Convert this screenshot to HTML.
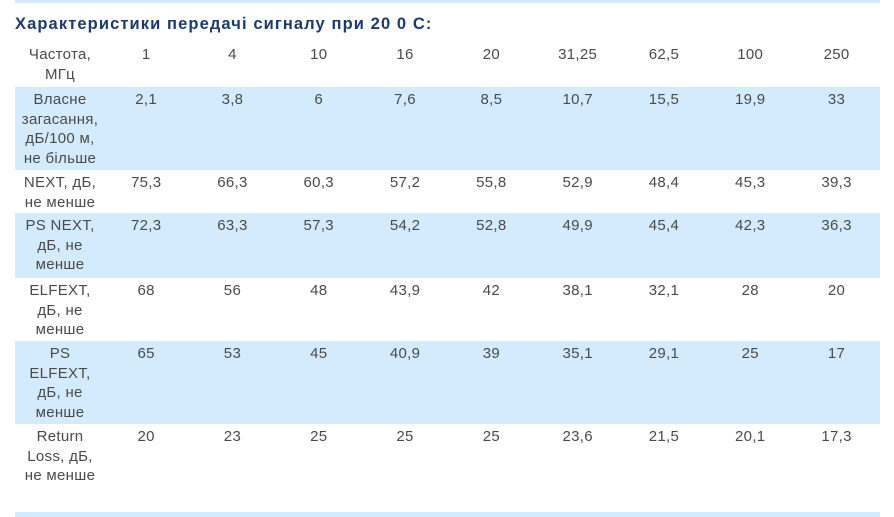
<!DOCTYPE html>
<html><head><meta charset="utf-8"><style>
body{margin:0;width:894px;height:517px;background:#fff;position:relative;overflow:hidden;font-family:"Liberation Sans","DejaVu Sans",sans-serif;}
.bar{position:absolute;left:15px;width:865px;background:#d3ebfd;}
h3{position:absolute;left:15px;top:15px;margin:0;font-size:16.5px;font-weight:bold;color:#1d3a6b;letter-spacing:1.1px;white-space:nowrap;}
.row{position:absolute;left:15px;width:865px;}
.row.b{background:#d3ebfd;}
.c{position:absolute;top:0;text-align:center;font-size:15px;line-height:19.5px;color:#4a4a4a;letter-spacing:0.3px;white-space:nowrap;}
</style></head><body>
<div class="bar" style="top:0;height:3px"></div>
<h3>Характеристики передачі сигналу при 20 0 С:</h3>
<div id="t"></div>
<div class="bar" style="top:512px;height:5px"></div>
<script>
var rows=[
[40,47,0,5,["Частота,<br>МГц","1","4","10","16","20","31,25","62,5","100","250"]],
[87,83,1,3,["Власне<br>загасання,<br>дБ/100 м,<br>не більше","2,1","3,8","6","7,6","8,5","10,7","15,5","19,9","33"]],
[170,43,0,3,["NEXT, дБ,<br>не менше","75,3","66,3","60,3","57,2","55,8","52,9","48,4","45,3","39,3"]],
[213,65,1,3,["PS NEXT,<br>дБ, не<br>менше","72,3","63,3","57,3","54,2","52,8","49,9","45,4","42,3","36,3"]],
[278,63,0,3,["ELFEXT,<br>дБ, не<br>менше","68","56","48","43,9","42","38,1","32,1","28","20"]],
[341,83,1,3,["PS<br>ELFEXT,<br>дБ, не<br>менше","65","53","45","40,9","39","35,1","29,1","25","17"]],
[424,83,0,3,["Return<br>Loss, дБ,<br>не менше","20","23","25","25","25","23,6","21,5","20,1","17,3"]]];
var h='';
rows.forEach(function(r){
 h+='<div class="row'+(r[2]?' b':'')+'" style="top:'+r[0]+'px;height:'+r[1]+'px">';
 r[4].forEach(function(t,i){
  var l,w;
  if(i==0){l=0;w=90;}else{l=88+(i-1)*86.3;w=86.3;}
  h+='<div class="c" style="left:'+l+'px;width:'+w+'px;padding-top:'+r[3]+'px">'+t+'</div>';
 });
 h+='</div>';
});
document.getElementById('t').innerHTML=h;
</script>
</body></html>
